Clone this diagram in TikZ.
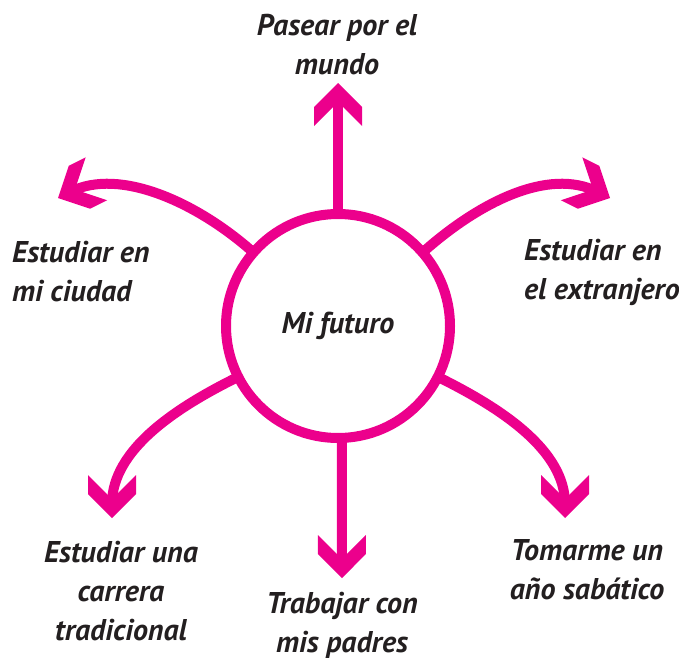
\documentclass[tikz,border=0pt]{standalone}
\usepackage{fontspec}
\setmainfont{PT Sans}
\usetikzlibrary{arrows.meta}
\definecolor{mag}{RGB}{236,0,140}
\definecolor{ink}{RGB}{35,31,32}
\pgfdeclarearrow{
  name = Chev,
  setup code = {
    \pgfarrowssettipend{0pt}
    \pgfarrowssetlineend{-14pt}
    \pgfarrowssetbackend{-43pt}
    \pgfarrowssetvisualbackend{-43pt}
    \pgfarrowsupperhullpoint{0pt}{0pt}
    \pgfarrowsupperhullpoint{-24pt}{24pt}
    \pgfarrowsupperhullpoint{-43pt}{24pt}
  },
  drawing code = {
    \pgfpathmoveto{\pgfqpoint{0pt}{0pt}}
    \pgfpathlineto{\pgfqpoint{-24pt}{24pt}}
    \pgfpathlineto{\pgfqpoint{-43pt}{24pt}}
    \pgfpathlineto{\pgfqpoint{-19pt}{0pt}}
    \pgfpathlineto{\pgfqpoint{-43pt}{-24pt}}
    \pgfpathlineto{\pgfqpoint{-24pt}{-24pt}}
    \pgfpathclose
    \pgfusepathqfill
  }
}
\begin{document}
\begin{tikzpicture}[x=1pt,y=1pt,
  lbl/.style={font=\fontsize{30}{39}\selectfont\bfseries\itshape, text=ink, inner sep=0pt},
  hub/.style={circle, draw=mag, line width=10pt, minimum size=224pt, inner sep=0pt, outer sep=0pt,
              font=\fontsize{30}{39}\selectfont\bfseries\itshape, text=ink},
  conn/.style={color=mag, line width=10pt, -Chev}]
\useasboundingbox (0,0) rectangle (679,-661);
\node[hub] (c) at (338,-326) {Mi futuro};

\node[lbl, align=center] (t1) at (337,-45) {Pasear por el\\mundo};
\node[lbl, align=left, anchor=west] (t2) at (12,-272) {Estudiar en\\mi ciudad};
\node[lbl, align=left, anchor=west] (t3) at (524,-272) {Estudiar en\\el extranjero};
\node[lbl, align=center] (t4) at (121,-591) {Estudiar una\\carrera\\tradicional};
\node[lbl, align=center] (t5) at (342,-625) {Trabajar con\\mis padres};
\node[lbl, align=center] (t6) at (587,-570) {Tomarme un\\año sabático};

\coordinate (eT) at (338,-83);
\coordinate (eB) at (342,-578);
\coordinate (eUL) at (58,-198);
\coordinate (eUR) at (610,-198);
\coordinate (eLL) at (112,-518);
\coordinate (eLR) at (565,-518);

\draw[conn] (c.north) -- (eT);
\draw[conn] (c.272) -- (eB);
\draw[conn] (c.139) .. controls (198,-203) and (120,-167) .. (eUL);
\draw[conn] (c.41) .. controls (478,-203) and (548,-167) .. (eUR);
\draw[conn] (c.207) .. controls (175,-408) and (112,-450) .. (eLL);
\draw[conn] (c.333) .. controls (501,-408) and (565,-450) .. (eLR);
\end{tikzpicture}
\end{document}
